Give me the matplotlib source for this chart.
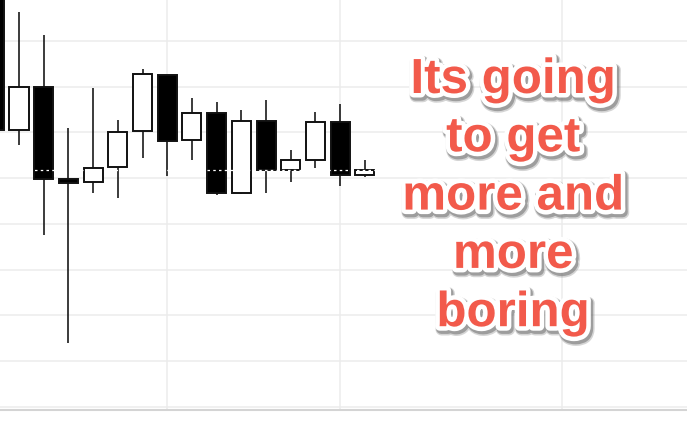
import numpy as np
import matplotlib
matplotlib.use('Agg')
import matplotlib.pyplot as plt
import matplotlib.patheffects as pe

# candle data (index 0 is partly cut off at the left edge)
opens = [191.0, 160.5, 170.0, 149.8, 149.2, 152.5, 160.3, 172.6, 158.4, 164.3, 146.8, 162.5, 151.8, 154.0, 162.3, 150.7]
highs = [192.0, 186.3, 181.3, 161.0, 169.7, 162.7, 173.9, 172.6, 167.5, 166.7, 164.9, 167.1, 156.2, 164.5, 166.2, 154.0]
lows = [158.0, 157.3, 137.6, 114.0, 146.8, 145.7, 154.4, 150.5, 154.0, 146.3, 146.6, 146.8, 149.2, 152.2, 148.3, 150.3]
closes = [160.5, 170.0, 149.8, 149.0, 152.2, 160.1, 172.8, 158.1, 164.3, 146.8, 162.5, 151.8, 154.0, 162.3, 150.7, 151.8]
price_line = 151.8
hgrid = [100, 110, 120, 130, 140, 150, 160, 170, 180]
vgrid = [7, 14, 23]
caption = "Its going\nto get\nmore and\nmore\nboring"

fig = plt.figure(figsize=(6.87, 4.21), dpi=100)
ax = fig.add_axes([0, 11 / 421, 1, 410 / 421])
ax.set_xlim(0.2308, 28.04)
ax.set_ylim(99.34, 188.96)

for y in hgrid:
    ax.axhline(y, color='#ececec', lw=1.1, zorder=0)
for x in vgrid:
    ax.axvline(x, color='#ececec', lw=1.1, zorder=0)

idx = np.arange(len(opens))
o = np.array(opens)
c = np.array(closes)
ax.vlines(idx, lows, highs, color='#1a1a1a', lw=1.2, zorder=2)
fill = ['white' if cc >= oo else 'black' for oo, cc in zip(o, c)]
ax.bar(idx, c - o, bottom=o, width=0.77, color=fill, edgecolor='#111111',
       linewidth=1.4, zorder=3)

ax.axhline(price_line, color='white', lw=0.9, dashes=(2, 2.6), zorder=4)

for s in ['top', 'left', 'right']:
    ax.spines[s].set_visible(False)
ax.spines['bottom'].set_color('#d4d4d4')
ax.spines['bottom'].set_linewidth(1.5)
ax.set_xticks([])
ax.set_yticks([])

fig.text(513 / 687, 1 - 58 / 421, caption, ha='center', va='top',
         fontsize=35.5, fontweight='bold', family=['Liberation Sans', 'DejaVu Sans'],
         color='#f25a4b', linespacing=1.38, zorder=10,
         path_effects=[pe.Stroke(linewidth=9, foreground='#888888', offset=(1.5, -2.2), alpha=0.35),
                       pe.Stroke(linewidth=7.5, foreground='#666666', offset=(1.2, -1.8), alpha=0.5),
                       pe.Stroke(linewidth=6.5, foreground='white'),
                       pe.Normal()])

fig.savefig('out.png', dpi=100)
